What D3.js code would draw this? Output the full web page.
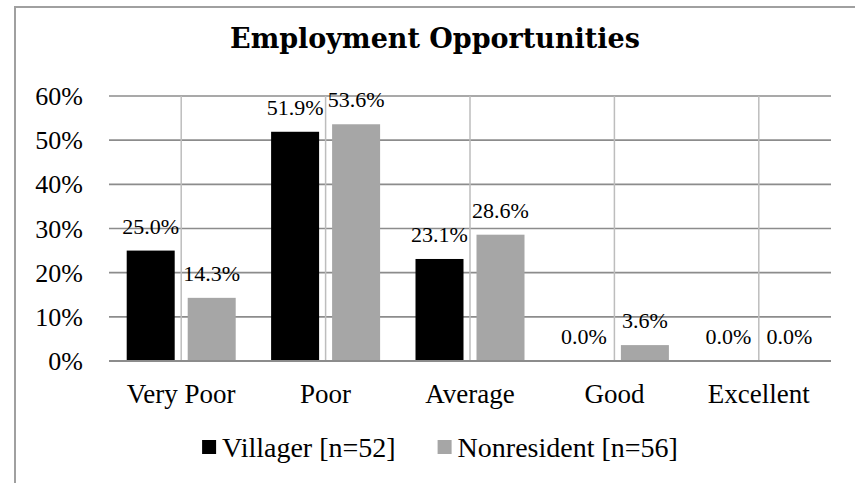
<!DOCTYPE html>
<html>
<head>
<meta charset="utf-8">
<script src="https://cdn.jsdelivr.net/npm/d3@7"></script>
<style>
  body { margin: 0; background: #fff; }
  svg { display: block; }
</style>
</head>
<body>
<svg id="chart"></svg>
<script>
const categories = ["Very Poor", "Poor", "Average", "Good", "Excellent"];
const seriesNames = ["Villager [n=52]", "Nonresident [n=56]"];
const villager = [25.0, 51.9, 23.1, 0.0, 0.0];
const nonresident = [14.3, 53.6, 28.6, 3.6, 0.0];
const yTicks = [0, 10, 20, 30, 40, 50, 60];
const colors = ["#000000", "#a6a6a6"];

const width = 855, height = 483;
const plot = { left: 109, right: 831, top: 96, bottom: 361 };
const serif = "'Liberation Serif', 'Times New Roman', serif";

const svg = d3.select("#chart")
  .attr("width", width)
  .attr("height", height);

// outer chart frame (only top and left edges visible)
svg.append("rect")
  .attr("x", 15).attr("y", 7)
  .attr("width", 1000).attr("height", 1000)
  .attr("fill", "#fff")
  .attr("stroke", "#a0a0a0")
  .attr("stroke-width", 2);

svg.append("text")
  .attr("x", 435).attr("y", 48)
  .attr("text-anchor", "middle")
  .attr("font-family", "'DejaVu Serif', serif")
  .attr("font-weight", "bold")
  .attr("font-size", 27)
  .text("Employment Opportunities");

let y = d3.scaleLinear().domain([0, 60]).range([plot.bottom, plot.top]);
let x0 = d3.scaleBand().domain(categories).range([plot.left, plot.right]);
const groupW = 109;
let x1 = d3.scaleBand().domain(seriesNames)
  .range([(x0.bandwidth() - groupW) / 2, (x0.bandwidth() + groupW) / 2])
  .paddingInner(13 / 61);

// horizontal gridlines
svg.append("g")
  .selectAll("line")
  .data(yTicks)
  .enter()
  .append("line")
  .attr("x1", plot.left).attr("x2", plot.right)
  .attr("y1", d => y(d)).attr("y2", d => y(d))
  .attr("stroke", "#8c8c8c")
  .attr("stroke-width", 1.6);

// vertical gridlines at category centres
svg.append("g")
  .selectAll("line")
  .data(categories)
  .enter()
  .append("line")
  .attr("x1", d => x0(d) + x0.bandwidth() / 2)
  .attr("x2", d => x0(d) + x0.bandwidth() / 2)
  .attr("y1", plot.top).attr("y2", plot.bottom)
  .attr("stroke", "#bdbdbd")
  .attr("stroke-width", 1.5);

// y tick labels
svg.append("g")
  .selectAll("text")
  .data(yTicks)
  .enter()
  .append("text")
  .attr("x", 83)
  .attr("y", d => y(d) + 9)
  .attr("text-anchor", "end")
  .attr("font-family", serif)
  .attr("font-size", 26)
  .text(d => d + "%");

const rows = categories.map((c, i) => ({ cat: c, vals: [villager[i], nonresident[i]] }));

const groups = svg.append("g")
  .selectAll("g")
  .data(rows)
  .enter()
  .append("g")
  .attr("transform", d => `translate(${x0(d.cat)},0)`);

groups.selectAll("rect")
  .data(d => d.vals.map((v, j) => ({ name: seriesNames[j], v: v, j: j })))
  .enter()
  .append("rect")
  .attr("x", d => x1(d.name))
  .attr("width", x1.bandwidth())
  .attr("y", d => y(d.v))
  .attr("height", d => y(0) - y(d.v))
  .attr("fill", d => colors[d.j]);

groups.selectAll("text")
  .data(d => d.vals.map((v, j) => ({ name: seriesNames[j], v: v, j: j })))
  .enter()
  .append("text")
  .attr("x", d => x1(d.name) + x1.bandwidth() / 2)
  .attr("y", d => y(d.v) - 17)
  .attr("text-anchor", "middle")
  .attr("font-family", serif)
  .attr("font-size", 22)
  .text(d => d.v.toFixed(1) + "%");

// x axis line
svg.append("line")
  .attr("x1", plot.left).attr("x2", plot.right)
  .attr("y1", y(0)).attr("y2", y(0))
  .attr("stroke", "#8c8c8c")
  .attr("stroke-width", 2);

// category labels
svg.append("g")
  .selectAll("text")
  .data(categories)
  .enter()
  .append("text")
  .attr("x", d => x0(d) + x0.bandwidth() / 2)
  .attr("y", 403)
  .attr("text-anchor", "middle")
  .attr("font-family", serif)
  .attr("font-size", 27)
  .text(d => d);

// legend
const legend = svg.append("g");
const items = legend.selectAll("g")
  .data(seriesNames)
  .enter()
  .append("g");
items.append("rect")
  .attr("width", 14).attr("height", 14)
  .attr("y", 440)
  .attr("fill", (d, i) => colors[i]);
items.append("text")
  .attr("x", 20)
  .attr("y", 457)
  .attr("font-family", serif)
  .attr("font-size", 28)
  .text(d => d);

let lx = 0;
const widths = [];
items.each(function() {
  widths.push(20 + d3.select(this).select("text").node().getComputedTextLength());
});
const gap = 42;
const total = d3.sum(widths) + gap * (widths.length - 1);
lx = 440 - total / 2;
items.attr("transform", (d, i) => {
  const t = `translate(${lx},0)`;
  lx += widths[i] + gap;
  return t;
});
</script>
</body>
</html>
